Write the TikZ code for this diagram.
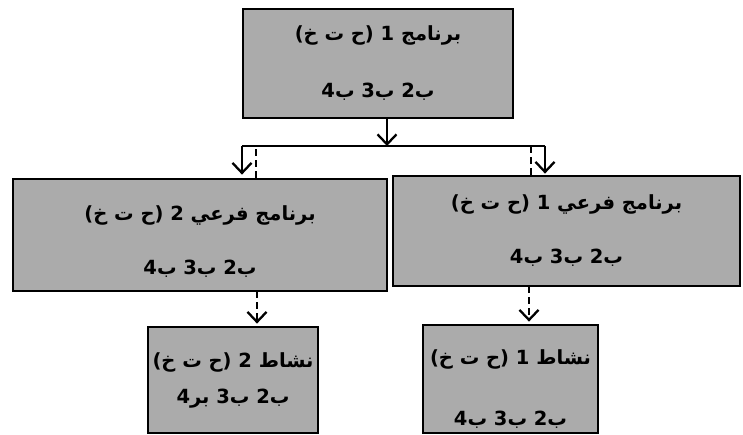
\documentclass[tikz,border=0pt]{standalone}
\usepackage{fontspec}
\usepackage{tikz}
\usetikzlibrary{arrows.meta}
\TeXXeTstate=1
\newfontfamily\arabicfont[Script=Arabic]{DejaVu Sans}
\newcommand{\artext}[1]{{\arabicfont\bfseries\beginR #1\endR}}
\newcommand{\lift}[1]{\rule{0pt}{#1}}

\begin{document}
\begin{tikzpicture}[
  x=1pt, y=-1pt,
  every node/.style={font=\fontsize{19.5}{23}\selectfont},
  progbox/.style={draw, line width=2.8pt, fill=black!33, align=center, inner sep=0pt},
  link/.style={line width=2.3pt},
  arrow/.style={line width=2.3pt, -{Straight Barb[length=10pt,width=19pt,line width=2.3pt]}},
  dashlink/.style={line width=2.3pt, dash pattern=on 7pt off 4pt},
  dasharrow/.style={dashlink, -{Straight Barb[length=10pt,width=19pt,line width=2.3pt]}}
]
\useasboundingbox (0,0) rectangle (743,435);

\node[progbox, minimum width=270pt, minimum height=109pt] (prog) at (378,63.5)
  {\artext{برنامج 1 (ح ت خ)}\\[34pt]\artext{ب2 ب3 ب4}};
\node[progbox, minimum width=374pt, minimum height=112pt] (subtwo) at (200,235)
  {\lift{28pt}\artext{برنامج فرعي 2 (ح ت خ)}\\[31pt]\artext{ب2 ب3 ب4}};
\node[progbox, minimum width=347pt, minimum height=110pt] (subone) at (566.5,231)
  {\artext{برنامج فرعي 1 (ح ت خ)}\\[31pt]\artext{ب2 ب3 ب4}};
\node[progbox, minimum width=170pt, minimum height=106pt] (acttwo) at (233,380)
  {\artext{نشاط 2 (ح ت خ)}\\[13pt]\artext{ب2 ب3 بر4}};
\node[progbox, minimum width=175pt, minimum height=108pt] (actone) at (510.5,379)
  {\lift{34pt}\artext{نشاط 1 (ح ت خ)}\\[38pt]\artext{ب2 ب3 ب4}};

% split line under the main program
\coordinate (split) at (387,146);
\coordinate (splitL) at (242,146);
\coordinate (splitR) at (545,146);
\coordinate (backL) at (256,146);
\coordinate (backR) at (531,146);
\draw[arrow] (split |- prog.south) -- (split);
\draw[link] (splitL) -- (splitR);
\draw[arrow, shorten >=3pt] (splitL) -- (splitL |- subtwo.north);
\draw[arrow, shorten >=1pt] (splitR) -- (splitR |- subone.north);
\draw[dashlink] (backL |- subtwo.north) -- (backL);
\draw[dashlink] (backR |- subone.north) -- (backR);

% sub programs to activities
\coordinate (downL) at (257,291);
\coordinate (downR) at (529,286);
\draw[dasharrow, shorten >=2pt] (downL) -- (downL |- acttwo.north);
\draw[dasharrow, shorten >=2pt] (downR) -- (downR |- actone.north);
\end{tikzpicture}
\end{document}
